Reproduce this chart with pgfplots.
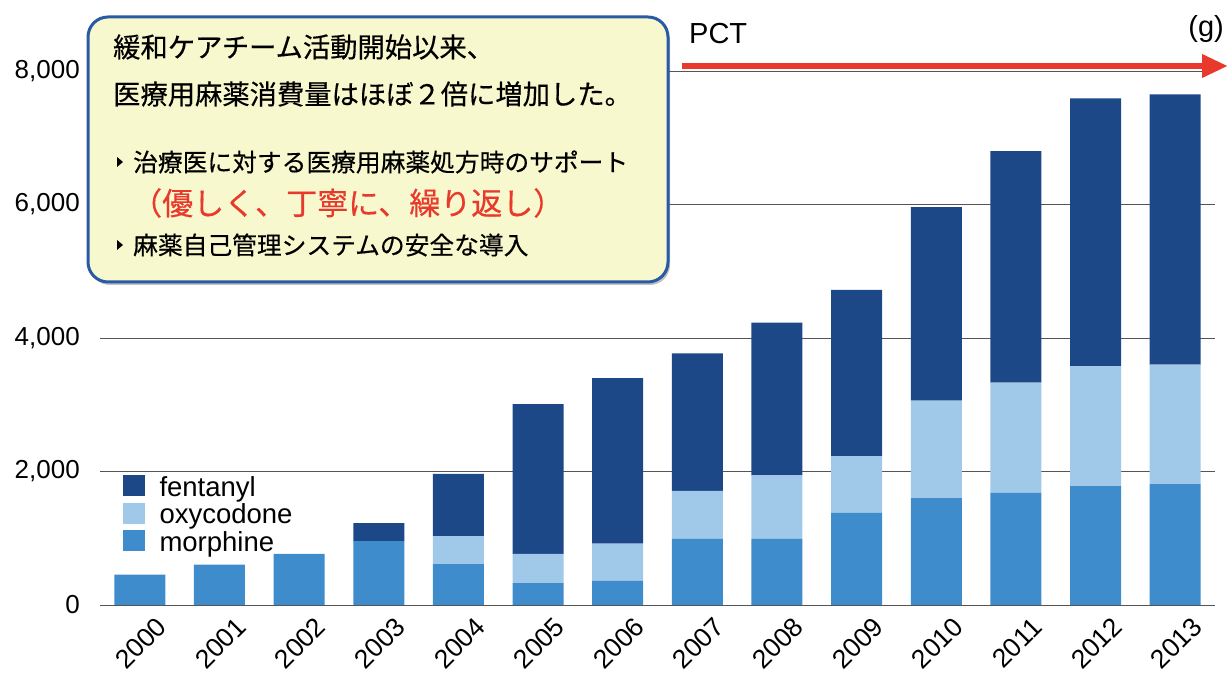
\documentclass[border=0pt]{standalone}
\usepackage{fontspec}
\setmainfont{Liberation Sans}
\newfontfamily\jp{Noto Sans CJK JP}[FakeBold=0.4]
\usepackage{pgfplots}
\pgfplotsset{compat=1.18}
\usetikzlibrary{arrows.meta,shadows}
\definecolor{fent}{RGB}{28,72,135}
\definecolor{oxy}{RGB}{160,200,232}
\definecolor{morph}{RGB}{62,140,204}
\definecolor{boxfill}{RGB}{248,248,206}
\definecolor{boxblue}{RGB}{40,90,165}
\definecolor{arrowred}{RGB}{232,57,44}
\definecolor{gridgray}{RGB}{85,85,85}
\begin{document}
\begin{tikzpicture}[x=1bp,y=1bp]
\path[use as bounding box] (0,0) rectangle (1231,675);
\begin{axis}[
  at={(100bp,70bp)}, anchor=south west,
  scale only axis, width=1115bp, height=534bp,
  ybar stacked, bar width=51bp,
  xmin=-0.5, xmax=13.5, ymin=0, ymax=8000,
  xtick={0,...,13},
  xticklabels={2000,2001,2002,2003,2004,2005,2006,2007,2008,2009,2010,2011,2012,2013},
  ytick={0,2000,4000,6000,8000},
  ymajorgrids, grid style={draw=gridgray, line width=0.9bp},
  axis line style={draw=none},
  major tick length=0pt,
  /pgf/number format/.cd, 1000 sep={,}, assume math mode=true, /pgfplots/.cd,
  ticklabel style={font=\fontsize{26bp}{26bp}\selectfont, inner sep=0pt},
  yticklabel style={anchor=east, xshift=-20bp},
  xticklabel style={font=\fontsize{26.5bp}{26.5bp}\selectfont, anchor=center, xshift=1bp, yshift=-38bp, rotate=45},
  legend style={at={(0.02,0.2436)}, anchor=north west, draw=none, fill=none,
    font=\fontsize{27.5bp}{27.5bp}\selectfont, inner sep=0pt, row sep=0.5bp,
    nodes={inner sep=0pt, text height=16bp, text depth=6bp},
    /tikz/every odd column/.append style={column sep=15bp}},
  legend cell align=left,
  reverse legend,
  legend image code/.code={\fill[#1,draw=none] (0bp,-5bp) rectangle (22bp,16bp);},
]
\addplot[fill=morph, draw=none] coordinates {
(0,454) (1,605) (2,765) (3,958) (4,614) (5,327) (6,362) (7,991) (8,990) (9,1380) (10,1600) (11,1680) (12,1780) (13,1810)};
\addlegendentry{morphine}
\addplot[fill=oxy, draw=none] coordinates {
(0,0) (1,0) (2,0) (3,0) (4,417) (5,438) (6,558) (7,719) (8,950) (9,850) (10,1460) (11,1650) (12,1800) (13,1790)};
\addlegendentry{oxycodone}
\addplot[fill=fent, draw=none] coordinates {
(0,0) (1,0) (2,0) (3,267) (4,935) (5,2245) (6,2480) (7,2060) (8,2290) (9,2490) (10,2900) (11,3470) (12,4010) (13,4050)};
\addlegendentry{fentanyl}
\end{axis}
% annotation box
\draw[line width=3bp, draw=boxblue, fill=boxfill, rounded corners=20bp,
  drop shadow={shadow xshift=2bp, shadow yshift=-3bp, opacity=0.35, fill=black!70}]
  (88,658) rectangle (668,393);
\node[anchor=west, inner sep=0pt] at (113,628) {\jp\fontsize{27.3bp}{27.3bp}\selectfont 緩和ケアチーム活動開始以来、};
\node[anchor=west, inner sep=0pt] at (113,581) {\jp\fontsize{27.3bp}{27.3bp}\selectfont 医療用麻薬消費量はほぼ２倍に増加した。};
\fill (117,518) -- (117,508) -- (123,513) -- cycle;
\node[anchor=west, inner sep=0pt] at (133,513) {\jp\fontsize{24.75bp}{24.75bp}\selectfont 治療医に対する医療用麻薬処方時のサポート};
\node[anchor=west, inner sep=0pt, text=arrowred] at (131,472) {\jp\fontsize{31bp}{31bp}\selectfont （優しく、丁寧に、繰り返し）};
\fill (117,435) -- (117,425) -- (123,430) -- cycle;
\node[anchor=west, inner sep=0pt] at (133,430) {\jp\fontsize{24.75bp}{24.75bp}\selectfont 麻薬自己管理システムの安全な導入};
% PCT arrow
\draw[line width=6.5bp, draw=arrowred, -{Triangle[length=26bp,width=22bp]}] (682,609) -- (1228,609);
\node[anchor=west, inner sep=0pt] at (689,641) {\fontsize{29bp}{29bp}\selectfont PCT};
\node[anchor=east, inner sep=0pt] at (1224,646) {\fontsize{29bp}{29bp}\selectfont (g)};
\end{tikzpicture}
\end{document}
